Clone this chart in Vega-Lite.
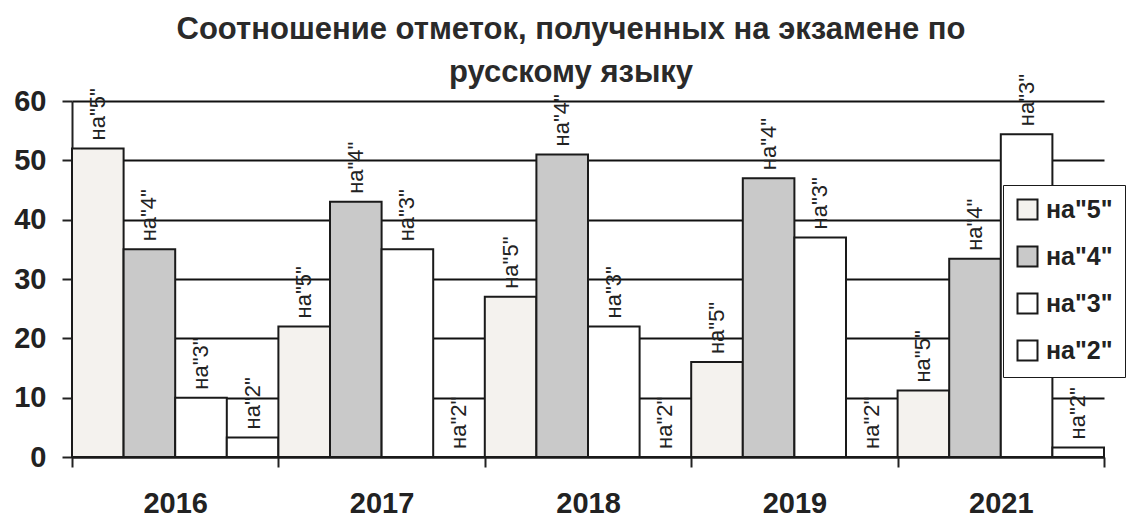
{
  "$schema": "https://vega.github.io/schema/vega-lite/v6.json",
  "width": 1032,
  "height": 356,
  "autosize": "none",
  "padding": {"left": 72, "top": 101, "right": 27, "bottom": 60},
  "background": "white",
  "title": {
    "text": ["Соотношение отметок, полученных на экзамене по", "русскому языку"],
    "font": "Liberation Sans",
    "fontSize": 31,
    "fontWeight": "bold",
    "color": "#2a2a2a",
    "lineHeight": 43,
    "baseline": "top",
    "offset": -15,
    "anchor": "middle",
    "dx": -17
  },
  "data": {
    "values": [
      {"year": "2016", "grade": "на\"5\"", "value": 52},
      {"year": "2016", "grade": "на\"4\"", "value": 35},
      {"year": "2016", "grade": "на\"3\"", "value": 10},
      {"year": "2016", "grade": "на\"2\"", "value": 3.3},
      {"year": "2017", "grade": "на\"5\"", "value": 22},
      {"year": "2017", "grade": "на\"4\"", "value": 43},
      {"year": "2017", "grade": "на\"3\"", "value": 35},
      {"year": "2017", "grade": "на\"2\"", "value": 0},
      {"year": "2018", "grade": "на\"5\"", "value": 27},
      {"year": "2018", "grade": "на\"4\"", "value": 51},
      {"year": "2018", "grade": "на\"3\"", "value": 22},
      {"year": "2018", "grade": "на\"2\"", "value": 0},
      {"year": "2019", "grade": "на\"5\"", "value": 16},
      {"year": "2019", "grade": "на\"4\"", "value": 47},
      {"year": "2019", "grade": "на\"3\"", "value": 37},
      {"year": "2019", "grade": "на\"2\"", "value": 0},
      {"year": "2021", "grade": "на\"5\"", "value": 11.2},
      {"year": "2021", "grade": "на\"4\"", "value": 33.4},
      {"year": "2021", "grade": "на\"3\"", "value": 54.4},
      {"year": "2021", "grade": "на\"2\"", "value": 1.6}
    ]
  },
  "encoding": {
    "x": {
      "field": "year",
      "type": "nominal",
      "scale": {"paddingInner": 0, "paddingOuter": 0},
      "axis": {
        "title": null,
        "labelAngle": 0,
        "labelFont": "Liberation Sans",
        "labelFontSize": 29,
        "labelFontWeight": "bold",
        "labelColor": "#222222",
        "labelPadding": 22,
        "tickBand": "extent",
        "tickSize": 10,
        "tickColor": "#222222",
        "tickWidth": 2,
        "domainColor": "#222222",
        "domainWidth": 2
      }
    },
    "xOffset": {
      "field": "grade",
      "type": "nominal",
      "sort": ["на\"5\"", "на\"4\"", "на\"3\"", "на\"2\""],
      "scale": {"paddingInner": 0, "paddingOuter": 0}
    },
    "y": {
      "field": "value",
      "type": "quantitative",
      "scale": {"domain": [0, 60], "nice": false},
      "axis": {
        "title": null,
        "values": [0, 10, 20, 30, 40, 50, 60],
        "labelFont": "Liberation Sans",
        "labelFontSize": 29,
        "labelFontWeight": "bold",
        "labelColor": "#222222",
        "labelPadding": 16,
        "tickSize": 10,
        "tickColor": "#222222",
        "tickWidth": 2,
        "domainColor": "#222222",
        "domainWidth": 2,
        "grid": true,
        "gridColor": "#111111",
        "gridWidth": 2
      }
    }
  },
  "layer": [
    {
      "mark": {"type": "bar", "stroke": "#1a1a1a", "strokeWidth": 2, "width": {"band": 1}},
      "encoding": {
        "fill": {
          "field": "grade",
          "type": "nominal",
          "sort": ["на\"5\"", "на\"4\"", "на\"3\"", "на\"2\""],
          "scale": {
            "domain": ["на\"5\"", "на\"4\"", "на\"3\"", "на\"2\""],
            "range": ["#f4f2ee", "#c9c9c9", "#ffffff", "#ffffff"]
          },
          "legend": {
            "title": null,
            "orient": "none",
            "legendX": 931,
            "legendY": 84,
            "fillColor": "white",
            "strokeColor": "#1a1a1a",
            "padding": 12,
            "symbolType": "square",
            "symbolSize": 400,
            "symbolStrokeColor": "#1a1a1a",
            "symbolStrokeWidth": 2,
            "labelFont": "Liberation Sans",
            "labelFontSize": 25,
            "labelFontWeight": "bold",
            "labelColor": "#222222",
            "labelOffset": 6,
            "rowPadding": 18,
            "labelLimit": 300
          }
        }
      }
    },
    {
      "mark": {
        "type": "text",
        "angle": -90,
        "align": "left",
        "baseline": "middle",
        "dx": 8,
        "font": "Liberation Sans",
        "fontSize": 22,
        "color": "#222222"
      },
      "encoding": {
        "text": {"field": "grade", "type": "nominal"}
      }
    }
  ],
  "config": {
    "view": {"stroke": null}
  }
}
